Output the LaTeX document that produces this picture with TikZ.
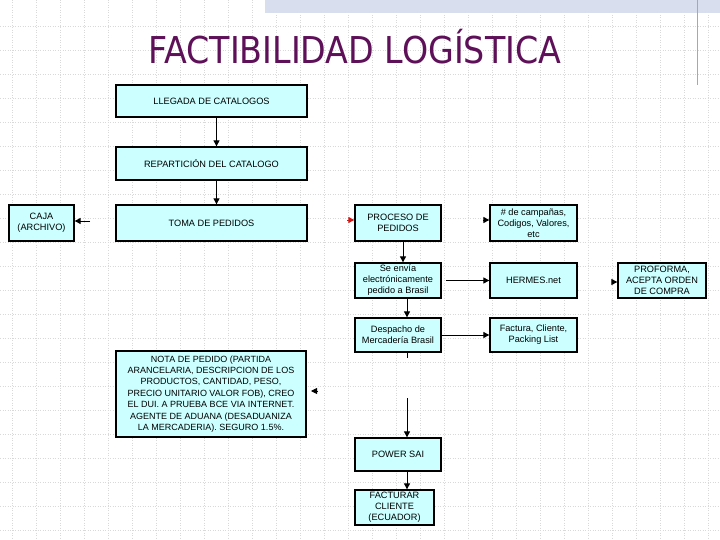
\documentclass[tikz,border=0pt]{standalone}
\usepackage{fontspec}
\setmainfont{Liberation Sans}
\newfontfamily\titlefont{DejaVu Sans Condensed}
\usetikzlibrary{arrows.meta}
\definecolor{boxcyan}{HTML}{CCFFFF}
\definecolor{titlepurple}{HTML}{5E1058}
\definecolor{bandblue}{HTML}{D8DEEE}
\definecolor{ruleblue}{HTML}{9AA8CC}
\definecolor{tipred}{HTML}{D01818}
\begin{document}
\begin{tikzpicture}[x=1pt,y=-1pt,
  box/.style={draw,line width=1.3pt,fill=boxcyan,align=center,inner sep=1pt,
    font=\fontsize{9.2}{11}\selectfont},
  arr/.style={line width=0.9pt,-{Triangle[length=6pt,width=6pt]}},
  gridline/.style={gray!30,dotted,line width=0.5pt}]
\useasboundingbox (0,0) rectangle (720,540);
\fill[white] (0,0) rectangle (720,540);
\foreach \y in {26,50,...,530} \draw[gridline] (0,\y) -- (720,\y);
\foreach \x in {12,36,...,720} \draw[gridline] (\x,0) -- (\x,540);
\fill[bandblue] (265,0) rectangle (720,13);
\draw[ruleblue,line width=0.8pt] (697,0) -- (697,85);

\node[font=\titlefont\fontsize{37}{42}\selectfont,text=titlepurple] (titulo) at (355,47) {FACTIBILIDAD LOGÍSTICA};

\node[box,minimum width=191pt,minimum height=32pt] (llegada) at (211.5,101) {LLEGADA DE CATALOGOS};
\node[box,minimum width=191pt,minimum height=33pt] (repart) at (211.5,163.5) {REPARTICIÓN DEL CATALOGO};
\node[box,minimum width=191pt,minimum height=36pt] (toma) at (211.5,223) {TOMA DE PEDIDOS};
\node[box,minimum width=65pt,minimum height=36pt] (caja) at (41.5,223) {CAJA\\(ARCHIVO)};

\node[box,minimum width=86pt,minimum height=36pt] (proceso) at (398,223) {PROCESO DE\\PEDIDOS};
\node[box,minimum width=87pt,minimum height=36pt] (campanas) at (533.5,223) {\# de campañas,\\Codigos, Valores,\\etc};
\node[box,minimum width=86pt,minimum height=35pt] (envia) at (398,280.5) {Se envía\\electrónicamente\\pedido a Brasil};
\node[box,minimum width=87pt,minimum height=35pt] (hermes) at (533.5,280.5) {HERMES.net};
\node[box,minimum width=88pt,minimum height=35pt] (proforma) at (662,280.5) {PROFORMA,\\ACEPTA ORDEN\\DE COMPRA};
\node[box,minimum width=86pt,minimum height=34pt] (despacho) at (398,335) {Despacho de\\Mercadería Brasil};
\node[box,minimum width=87pt,minimum height=34pt] (factura) at (533.5,335) {Factura, Cliente,\\Packing List};

\node[box,minimum width=190pt,minimum height=86pt,font=\fontsize{9}{11.4}\selectfont] (nota) at (211,394)
  {NOTA DE PEDIDO (PARTIDA\\ARANCELARIA, DESCRIPCION DE LOS\\PRODUCTOS, CANTIDAD, PESO,\\PRECIO UNITARIO VALOR FOB), CREO\\EL DUI. A PRUEBA BCE VIA INTERNET.\\AGENTE DE ADUANA (DESADUANIZA\\LA MERCADERIA). SEGURO 1.5\%.};

\node[box,minimum width=86pt,minimum height=33pt] (power) at (398,454.5) {POWER SAI};
\node[box,minimum width=79pt,minimum height=35pt] (facturar) at (394.5,507.5) {FACTURAR\\CLIENTE\\(ECUADOR)};

\coordinate (cajain) at (90,221);
\coordinate (rojoin) at (347,220);
\coordinate (campin) at (483,220);
\coordinate (proin) at (612,282);
\coordinate (notain) at (318,391);
\coordinate (notatip) at (311,391);
\coordinate (despout) at (407,358);
\coordinate (powerin) at (407,398);

\draw[arr] ([xshift=5pt]llegada.south) -- ([xshift=5pt]repart.north);
\draw[arr] ([xshift=5pt]repart.south) -- ([xshift=5pt]toma.north);
\draw[arr] (cajain) -- (caja.east |- cajain);
\draw[arr,tipred] (rojoin) -- (proceso.west |- rojoin);
\draw[arr] (campin) -- (campanas.west |- campin);
\draw[arr] (proin) -- (proforma.west |- proin);
\draw[arr] (notain) -- (notatip);
\draw[arr] ([xshift=5pt]proceso.south) -- ([xshift=5pt]envia.north);
\draw[arr] ([xshift=4pt]envia.east) -- (hermes.west);
\draw[arr] ([xshift=9pt]envia.south) -- ([xshift=9pt]despacho.north);
\draw[arr] (despacho.east) -- (factura.west);
\draw[line width=0.9pt] (despacho.south -| despout) -- (despout);
\draw[arr] (powerin) -- (power.north -| powerin);
\draw[arr] ([xshift=9pt]power.south) -- ([xshift=12.5pt]facturar.north);
\end{tikzpicture}
\end{document}
